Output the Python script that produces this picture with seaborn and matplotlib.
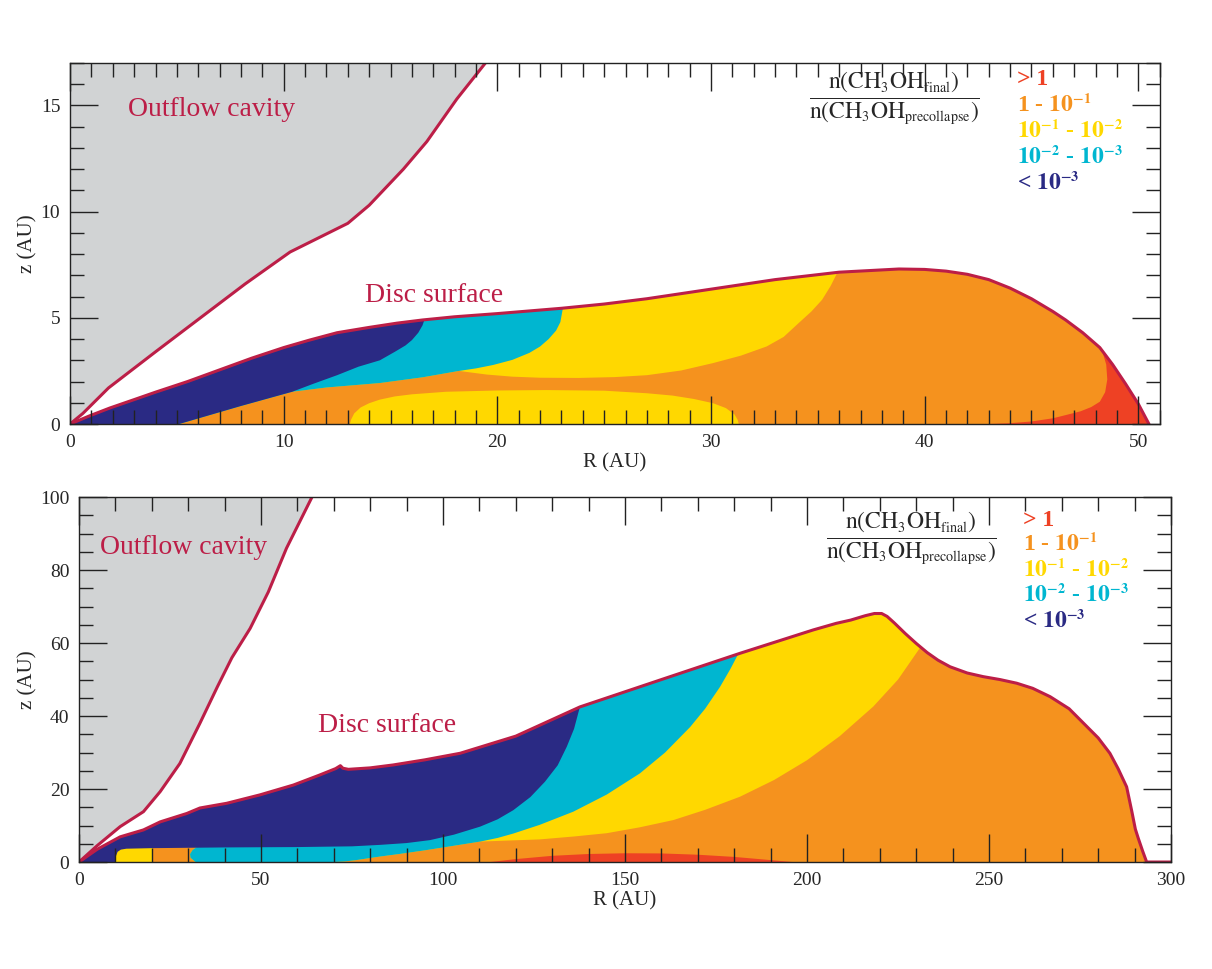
import numpy as np
import matplotlib
matplotlib.use("Agg")
import matplotlib.pyplot as plt
import matplotlib._mathtext as mathtext_internals
from matplotlib.patches import Polygon
from matplotlib.ticker import MultipleLocator
import seaborn as sns

# smaller sub/superscripts, closer to the typeset original
mathtext_internals.SHRINK_FACTOR = 0.6

# colours of the abundance-ratio bins
C_RED = "#ee4124"
C_ORANGE = "#f5921e"
C_YELLOW = "#ffd800"
C_CYAN = "#00b6d0"
C_BLUE = "#2a2a84"
C_GREY = "#d1d3d4"
C_LINE = "#bc1e47"

LEGEND_LABELS = ["> 1",
                 r"1 - $\mathbf{10^{-1}}$",
                 r"$\mathbf{10^{-1}}$ - $\mathbf{10^{-2}}$",
                 r"$\mathbf{10^{-2}}$ - $\mathbf{10^{-3}}$",
                 r"< $\mathbf{10^{-3}}$"]
LEGEND_COLORS = [C_RED, C_ORANGE, C_YELLOW, C_CYAN, C_BLUE]

# ---------------- upper panel (R up to 51 AU) ----------------
top_out_R = [0, 0.6, 1.8, 4, 6.1, 8.2, 10.3, 13.0, 14.0, 15.6, 16.7, 18.1, 19.6]
top_out_z = [0, 0.5, 1.7, 3.4, 5.0, 6.6, 8.1, 9.45, 10.3, 12.0, 13.3, 15.3, 17.2]

top_surf_R = [0, 0.9, 1.85, 3, 4, 5.5, 7, 8.5, 10, 11.2, 12.5, 14, 15.3, 16.5, 18,
              20, 23, 25, 27, 30, 33, 36, 38.8, 40, 41, 42, 43, 44, 45, 46, 46.6,
              47.4, 48.2, 48.8, 49.4, 50, 50.5]
top_surf_z = [0, 0.38, 0.75, 1.15, 1.5, 2.0, 2.55, 3.1, 3.6, 3.95, 4.3, 4.55, 4.75,
              4.9, 5.05, 5.2, 5.45, 5.65, 5.9, 6.35, 6.8, 7.15, 7.3, 7.28, 7.2,
              7.05, 6.8, 6.4, 5.9, 5.3, 4.9, 4.3, 3.6, 2.8, 1.9, 0.95, 0]

top_blue_orange_R = [5.1, 8, 10.4]
top_blue_orange_z = [0, 0.85, 1.52]
top_blue_cyan_R = [10.4, 11.4, 12.5, 13.5, 14.5, 15.2, 15.7, 16.0, 16.3, 16.5, 16.6, 16.7]
top_blue_cyan_z = [1.52, 1.9, 2.3, 2.7, 3.0, 3.4, 3.7, 3.95, 4.3, 4.65, 4.95, 6.5]
top_cyan_orange_R = [12, 14.5, 16.5, 18.2]
top_cyan_orange_z = [1.72, 1.93, 2.2, 2.5]
top_cyan_yellow_R = [18.2, 19.0, 19.8, 20.7, 21.5, 22.0, 22.4, 22.75, 22.95, 23.06, 23.15]
top_cyan_yellow_z = [2.5, 2.62, 2.78, 3.02, 3.35, 3.65, 4.0, 4.4, 4.8, 5.41, 7.0]
top_yellow_orange_R = [19.5, 20.7, 22, 23.8, 25.5, 27, 28.6, 30.1, 31.4, 32.6, 33.4,
                       34.1, 34.7, 35.2, 35.6, 35.9, 36.1]
top_yellow_orange_z = [2.33, 2.23, 2.18, 2.17, 2.21, 2.3, 2.52, 2.87, 3.22, 3.65, 4.1,
                       4.75, 5.3, 5.85, 6.5, 7.1, 8.5]

top_pocket_R = [13.1, 13.15, 13.3, 13.6, 14.0, 14.5, 15.2, 16, 17.6, 20, 22.3, 25,
                27, 28.2, 29.2, 30.1, 30.7, 31.1, 31.25, 31.3]
top_pocket_z = [0, 0.2, 0.5, 0.78, 0.98, 1.15, 1.3, 1.4, 1.52, 1.58, 1.6, 1.57,
                1.45, 1.34, 1.18, 0.98, 0.75, 0.45, 0.2, 0]

top_red_R = [43, 44, 45, 46, 46.6, 47.3, 47.8, 48.2, 48.45, 48.55, 48.5, 48.25, 48.6]
top_red_z = [0, 0.04, 0.12, 0.27, 0.42, 0.6, 0.8, 1.05, 1.5, 2.1, 2.8, 3.65, 5.5]

# ---------------- lower panel (R up to 300 AU) ----------------
bot_out_R = [0, 5, 11.3, 17.7, 22.3, 27.7, 33.2, 38, 42, 47, 52, 57, 61, 64.5]
bot_out_z = [0, 4.5, 9.7, 13.8, 19.3, 27, 38, 48, 56, 64, 74, 86, 94, 101]

bot_surf_R = [0, 5, 11.3, 17.7, 22.3, 29.6, 33.2, 40.6, 49.7, 58.9, 66, 70.5, 71.8,
              72.5, 74, 80, 86.3, 95, 104.7, 120, 137.6, 160, 181.6, 201.7, 208,
              212, 216, 218.5, 220.5, 222, 224, 227, 230, 233, 236, 239.3, 244,
              248.4, 253, 257.6, 262, 266.8, 272, 276, 280, 283.2, 285.5, 287.8,
              289.2, 290.2, 291, 292.2, 293.3, 300]
bot_surf_z = [0, 3.5, 6.9, 8.8, 11, 13.3, 14.8, 16.1, 18.4, 21.1, 23.8, 25.6, 26.4,
              25.7, 25.4, 25.8, 26.6, 28, 29.8, 34.5, 42.5, 50, 57.2, 63.6, 65.4,
              66.3, 67.5, 68.1, 68.1, 67.3, 65.5, 62.6, 59.9, 57.4, 55.3, 53.5, 51.8,
              50.8, 50.0, 49, 47.6, 45.3, 42, 38, 34, 29.8, 25.5, 20.6,
              14, 9, 6.5, 3, 0, 0]

bot_blue_lower_R = [9.9, 10.1, 10.6, 11.5, 13, 20, 40, 60, 75, 82.7, 90, 96.4, 103,
                    110.2, 115, 119.3, 124, 128, 131.5, 134, 136, 137.6, 139]
bot_blue_lower_z = [0, 1.5, 2.8, 3.4, 3.65, 3.8, 4.0, 4.1, 4.3, 4.7, 5.2, 6.0, 7.5,
                    9.7, 11.7, 14.2, 17.8, 22, 26.5, 31.6, 36.5, 42.5, 50]
bot_cyan_left_R = [32, 30.6, 30.5, 31.2, 32.5]
bot_cyan_left_z = [0, 1.2, 2.2, 3.3, 4.2]
bot_orange_top_R = [35, 70, 73, 76, 79, 82.7, 88, 95, 102, 110.2, 126.6, 136, 145,
                    154, 163.3, 172, 181.6, 191, 200, 209, 218.2, 225, 230.9, 234]
bot_orange_top_z = [0, 0, 0.15, 0.5, 0.95, 1.5, 2.2, 3.2, 4.3, 5.6, 6.2, 7.0, 7.9,
                    9.5, 11.5, 14.3, 17.9, 22.5, 27.9, 34.5, 42.6, 50, 58.5, 66]
bot_cyan_yellow_R = [110.2, 115, 119.3, 126.6, 135.8, 145, 154.1, 161, 167.9, 172,
                     176.1, 179, 181.2, 182.5]
bot_cyan_yellow_z = [5.6, 6.6, 7.8, 10.2, 13.8, 18.5, 24.3, 30, 37, 42, 48, 53, 57.2, 62]

bot_red_R = [113, 120, 130, 140, 150, 160, 170, 180, 188, 196]
bot_red_z = [0, 0.8, 1.7, 2.2, 2.4, 2.35, 2.0, 1.4, 0.7, 0]


def clipped_fill(ax, R, z, color, clip):
    poly = ax.fill(R, z, color=color, lw=0, antialiased=True)[0]
    poly.set_clip_path(clip)


def style_axes(ax, xmax, ymax, xmaj, xmin, ymaj, ymin):
    ax.set_xlim(0, xmax)
    ax.set_ylim(0, ymax)
    ax.set_axisbelow(False)
    ax.xaxis.set_major_locator(MultipleLocator(xmaj))
    ax.xaxis.set_minor_locator(MultipleLocator(xmin))
    ax.yaxis.set_major_locator(MultipleLocator(ymaj))
    ax.yaxis.set_minor_locator(MultipleLocator(ymin))
    ax.tick_params(which="both", direction="in", top=True, right=True,
                   labelsize=14, width=1, color="#222222")
    ax.tick_params(which="major", length=20, pad=7)
    ax.tick_params(which="minor", length=10)
    for s in ax.spines.values():
        s.set_linewidth(1)
        s.set_color("#222222")
        s.set_zorder(5)
    ax.set_xlabel("R (AU)", fontsize=15, labelpad=2)
    ax.set_ylabel("z (AU)", fontsize=15, labelpad=2)


def legend(ax, fx, fy, lx, ly, dy):
    ax.text(fx, fy, r"$\dfrac{\mathrm{n(CH_3OH_{final})}}{\mathrm{n(CH_3OH_{precollapse})}}$",
            transform=ax.transAxes, ha="center", va="center", fontsize=17)
    for i, (lab, col) in enumerate(zip(LEGEND_LABELS, LEGEND_COLORS)):
        ax.text(lx, ly - i * dy, lab, transform=ax.transAxes, ha="left",
                va="center", fontsize=17, fontweight="bold", color=col)


sns.set_style("ticks")
plt.rcParams["font.family"] = ["Liberation Serif", "DejaVu Serif"]
plt.rcParams["mathtext.fontset"] = "stix"

fig = plt.figure(figsize=(12.12, 9.69), dpi=100)
ax1 = fig.add_axes([0.0578, 0.5624, 0.899, 0.3726])
ax2 = fig.add_axes([0.0652, 0.1104, 0.901, 0.3766])

# ---- upper panel ----
ax = ax1
disc = Polygon(np.column_stack([top_surf_R, top_surf_z]), closed=True,
               transform=ax.transData)
ax.fill(top_out_R + [0], top_out_z + [17.2], color=C_GREY, lw=0)
ax.fill(top_surf_R, top_surf_z, color=C_ORANGE, lw=0)
low = list(zip(top_blue_orange_R, top_blue_orange_z))
cyan_low = low + list(zip(top_cyan_orange_R, top_cyan_orange_z))
yel = cyan_low + list(zip(top_yellow_orange_R, top_yellow_orange_z))
poly = [(0, 0)] + yel + [(36.1, 9), (0, 9)]
clipped_fill(ax, [p[0] for p in poly], [p[1] for p in poly], C_YELLOW, disc)
poly = [(0, 0)] + cyan_low + list(zip(top_cyan_yellow_R, top_cyan_yellow_z)) + [(23.15, 9), (0, 9)]
clipped_fill(ax, [p[0] for p in poly], [p[1] for p in poly], C_CYAN, disc)
poly = [(0, 0)] + low + list(zip(top_blue_cyan_R, top_blue_cyan_z)) + [(16.7, 9), (0, 9)]
clipped_fill(ax, [p[0] for p in poly], [p[1] for p in poly], C_BLUE, disc)
clipped_fill(ax, top_pocket_R, top_pocket_z, C_YELLOW, disc)
clipped_fill(ax, top_red_R + [52, 52], top_red_z + [5.5, 0], C_RED, disc)
sns.lineplot(x=top_out_R, y=top_out_z, sort=False, estimator=None, ax=ax,
             color=C_LINE, lw=2.2)
sns.lineplot(x=top_surf_R, y=top_surf_z, sort=False, estimator=None, ax=ax,
             color=C_LINE, lw=2.2)
ax.text(2.7, 14.8, "Outflow cavity", fontsize=20, color=C_LINE, va="center")
ax.text(13.8, 6.05, "Disc surface", fontsize=20, color=C_LINE, va="center")
style_axes(ax, 51, 17, 10, 1, 5, 1)
legend(ax, 0.757, 0.900, 0.869, 0.953, 0.072)

# ---- lower panel ----
ax = ax2
disc = Polygon(np.column_stack([bot_surf_R, bot_surf_z]), closed=True,
               transform=ax.transData)
ax.fill(bot_out_R + [0], bot_out_z + [101], color=C_GREY, lw=0)
ax.fill(bot_surf_R, bot_surf_z, color=C_ORANGE, lw=0)
cyan_edge = list(zip(bot_cyan_left_R, bot_cyan_left_z))[::-1]
otop = list(zip(bot_orange_top_R, bot_orange_top_z))
poly = cyan_edge + otop + [(234, 110), (32.5, 110)]
clipped_fill(ax, [p[0] for p in poly], [p[1] for p in poly], C_YELLOW, disc)
poly = cyan_edge + [p for p in otop if p[0] < 110.2] + \
    list(zip(bot_cyan_yellow_R, bot_cyan_yellow_z)) + [(182.5, 110), (32.5, 110)]
clipped_fill(ax, [p[0] for p in poly], [p[1] for p in poly], C_CYAN, disc)
clipped_fill(ax, [9.9, 20.4, 20.4, 9.9], [0, 0, 5, 5], C_YELLOW, disc)
poly = [(0, 0)] + list(zip(bot_blue_lower_R, bot_blue_lower_z)) + [(139, 110), (0, 110)]
clipped_fill(ax, [p[0] for p in poly], [p[1] for p in poly], C_BLUE, disc)
clipped_fill(ax, bot_red_R, bot_red_z, C_RED, disc)
sns.lineplot(x=bot_out_R, y=bot_out_z, sort=False, estimator=None, ax=ax,
             color=C_LINE, lw=2.2)
sns.lineplot(x=bot_surf_R, y=bot_surf_z, sort=False, estimator=None, ax=ax,
             color=C_LINE, lw=2.2)
ax.text(5.8, 86.3, "Outflow cavity", fontsize=20, color=C_LINE, va="center")
ax.text(65.7, 37.5, "Disc surface", fontsize=20, color=C_LINE, va="center")
style_axes(ax, 300, 100, 50, 10, 20, 5)
legend(ax, 0.762, 0.887, 0.864, 0.937, 0.0695)

fig.savefig("out.png", dpi=100)
